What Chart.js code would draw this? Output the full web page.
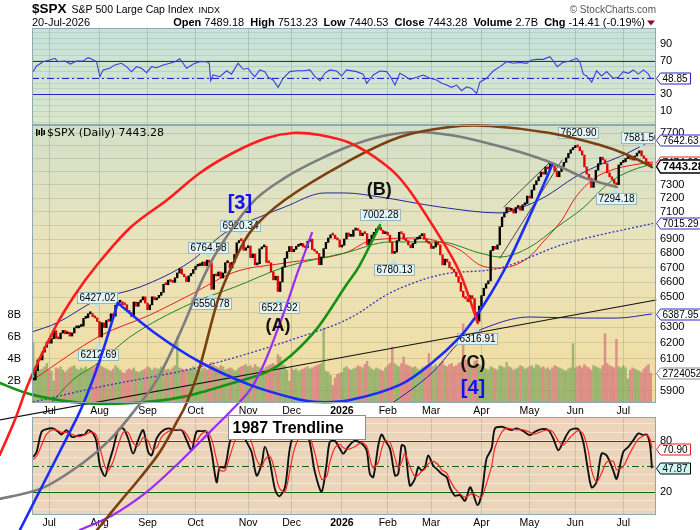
<!DOCTYPE html>
<html>
<head>
<meta charset="utf-8">
<title>$SPX Daily</title>
<script src="https://cdn.jsdelivr.net/npm/chart.js@4.4.1/dist/chart.umd.min.js"></script>
<style>
  html, body { margin: 0; padding: 0; background: #fff; }
  #wrap { position: relative; width: 700px; height: 530px; overflow: hidden; }
  #wrap canvas { position: absolute; left: 0; top: 0; }
</style>
</head>
<body>
<div id="wrap">
  <canvas id="rsi" width="700" height="530"></canvas>
  <canvas id="stoch" width="700" height="530"></canvas>
  <canvas id="main" width="700" height="530"></canvas>
</div>
<script>
const FONT = '"Liberation Sans", Arial, sans-serif';
Chart.defaults.font.family = FONT;
Chart.defaults.font.size = 11;
Chart.defaults.color = '#000';

// x axis = trading day index, 0 = 20-Jun-2025, 270 = 20-Jul-2026
const X_MIN = -0.5, X_MAX = 272.3;
const monthIdx = [7, 29, 50, 71, 94, 113, 135, 155, 174, 196, 217, 237, 258];
const monthLabels = ['Jul', 'Aug', 'Sep', 'Oct', 'Nov', 'Dec', '2026', 'Feb', 'Mar', 'Apr', 'May', 'Jun', 'Jul'];

// daily closes
const closes = [
  5967, 6025, 6092, 6092, 6141, 6173, 6205,                                   // Jun 25
  6198, 6227, 6279, 6229, 6226, 6263, 6280, 6259, 6268, 6244, 6264, 6297, 6297,
  6306, 6309, 6359, 6363, 6389, 6390, 6371, 6362, 6339,                       // Jul
  6238, 6330, 6299, 6345, 6340, 6389, 6374, 6446, 6466, 6469, 6450, 6449, 6411,
  6396, 6370, 6467, 6439, 6465, 6481, 6502, 6460,                             // Aug
  6416, 6448, 6502, 6482, 6495, 6512, 6532, 6587, 6584, 6615, 6606, 6600, 6631,
  6664, 6693, 6656, 6638, 6605, 6644, 6661, 6688,                             // Sep
  6711, 6715, 6716, 6740, 6714, 6753, 6735, 6553, 6655, 6644, 6671, 6630, 6664,
  6735, 6735, 6699, 6738, 6792, 6875, 6891, 6890, 6822, 6840,                 // Oct
  6852, 6771, 6796, 6720, 6728, 6832, 6846, 6851, 6737, 6734, 6672, 6617, 6642,
  6538, 6603, 6705, 6766, 6813, 6849,                                         // Nov
  6812, 6829, 6850, 6857, 6870, 6846, 6840, 6886, 6901, 6827, 6816, 6800, 6721,
  6775, 6834, 6878, 6909, 6932, 6930, 6905, 6896, 6845,                       // Dec
  6858, 6902, 6945, 6921, 6921, 6966, 6977, 6963, 6926, 6944, 6940, 6860, 6900,
  6930, 6950, 6975, 6985, 6965, 6940, 6950,                                   // Jan 26
  6930, 6880, 6800, 6810, 6890, 6950, 6940, 6900, 6890, 6860, 6840, 6870, 6900,
  6905, 6925, 6940, 6900, 6880, 6870,                                         // Feb
  6835, 6845, 6880, 6860, 6790, 6720, 6760, 6740, 6700, 6690, 6670, 6640, 6600,
  6540, 6500, 6490, 6470, 6510, 6490, 6400, 6340, 6440,                       // Mar
  6510, 6560, 6590, 6610, 6820, 6850, 6830, 6860, 6990, 7060, 7090, 7130, 7110,
  7120, 7090, 7130, 7140, 7110, 7150, 7160, 7215,                             // Apr
  7200, 7260, 7300, 7330, 7360, 7395, 7380, 7435, 7420, 7465, 7440, 7405, 7360,
  7400, 7440, 7470, 7505, 7540, 7568, 7585,                                   // May
  7600, 7590, 7560, 7527, 7435, 7380, 7350, 7280, 7330, 7410, 7460, 7510, 7490,
  7460, 7390, 7360, 7340, 7310, 7300, 7450, 7470,                             // Jun
  7475, 7500, 7510, 7495, 7488, 7520, 7542, 7560, 7520, 7500, 7470, 7457.69, 7443.28 // Jul
];

// daily volume, billions
const volumes = [
  5.5, 3.2, 3.5, 3.0, 3.1, 3.3, 3.6,
  3.0, 2.9, 2.0, 3.2, 3.1, 3.3, 3.0, 2.8, 3.0, 3.2, 3.3, 3.4, 3.1, 3.0, 3.2, 3.1, 3.3, 3.0, 3.1, 3.2, 3.3, 3.6,
  3.9, 3.3, 3.2, 3.1, 3.0, 2.9, 3.1, 3.4, 3.2, 3.0, 2.8, 2.7, 3.0, 3.1, 3.0, 3.2, 2.9, 2.8, 2.9, 3.0, 3.1,
  3.3, 3.2, 3.0, 3.2, 3.1, 3.1, 3.3, 3.2, 3.0, 3.1, 3.0, 3.2, 3.4, 6.0, 3.2, 3.1, 3.0, 3.1, 3.0, 3.1, 3.3,
  3.1, 3.0, 2.9, 3.1, 3.2, 3.0, 3.1, 3.7, 3.4, 3.3, 3.2, 3.4, 3.3, 3.0, 3.1, 3.2, 3.1, 2.9, 3.0, 3.2, 3.3, 3.4, 3.5,
  3.3, 3.4, 3.2, 3.5, 3.3, 3.2, 3.0, 3.1, 3.3, 3.4, 3.5, 3.6, 3.4, 4.4, 4.2, 3.5, 3.4, 3.0, 2.0,
  3.2, 3.0, 3.1, 2.9, 3.0, 3.1, 3.2, 3.3, 3.1, 3.2, 3.3, 3.4, 3.5, 3.6, 6.8, 2.9, 2.8, 2.5, 1.6, 2.3, 2.6, 2.7,
  2.8, 3.2, 3.3, 3.1, 3.0, 3.1, 3.2, 3.4, 3.3, 3.2, 3.5, 3.8, 3.3, 3.1, 3.0, 3.2, 3.1, 3.0, 2.9, 3.2,
  3.4, 3.6, 5.1, 3.6, 3.4, 3.3, 3.6, 4.2, 3.5, 3.4, 3.3, 3.2, 3.3, 3.1, 3.0, 3.2, 3.3, 3.4, 4.5,
  3.4, 3.3, 3.5, 3.2, 3.6, 3.8, 3.4, 3.3, 3.5, 3.6, 3.3, 3.4, 3.6, 3.7, 7.2, 3.9, 3.6, 3.5, 3.4, 3.8, 3.9, 3.5,
  3.4, 3.2, 3.1, 3.0, 3.3, 3.2, 3.1, 3.0, 3.4, 3.3, 3.2, 3.7, 3.3, 3.2, 3.0, 3.1, 3.2, 3.4, 3.3, 3.1, 3.2,
  3.3, 3.4, 3.2, 3.5, 3.4, 3.2, 3.3, 3.1, 3.2, 3.0, 3.2, 3.4, 3.3, 3.2, 3.1, 3.0, 2.9, 3.1, 3.2, 5.4,
  3.2, 3.3, 3.4, 3.2, 3.5, 3.3, 3.2, 3.0, 3.4, 3.3, 3.2, 3.1, 3.4, 6.3, 3.6, 3.4, 3.3, 3.2, 5.8, 3.3, 3.2,
  3.4, 3.2, 2.2, 3.0, 3.2, 3.1, 3.0, 2.9, 2.8, 3.1, 3.3, 3.5, 2.724
];

const priceTicks = [5900, 6000, 6100, 6200, 6300, 6400, 6500, 6600, 6700, 6800, 6900, 7000, 7100, 7200, 7300, 7400, 7500, 7600, 7700];
const priceLabels = [5900, 6100, 6200, 6300, 6500, 6600, 6700, 6800, 6900, 7100, 7200, 7300, 7700];
const volTicks = [2, 4, 6, 8];

// overlays [day index, price]
const maUpper = [[-0.6, 6270], [10.4, 6329], [27.9, 6481], [46.7, 6568], [68.5, 6740], [83.8, 6945], [101.3, 7076], [110, 7134], [127.5, 7238], [136.3, 7238], [151.6, 7208], [177.8, 7134], [204.1, 7090], [212.8, 7126], [223.7, 7208], [236.9, 7358], [245.6, 7434], [260, 7543], [270.5, 7643]];
const maRed = [[-0.1, 5968], [29.2, 6245], [51, 6381], [68.5, 6514], [88.2, 6671], [110, 6733], [136.3, 6803], [148.5, 6895], [169.1, 6909], [177.8, 6881], [186.6, 6824], [195.3, 6719], [204.1, 6698], [216.3, 6768], [223.7, 6895], [231.2, 7039], [236.9, 7200], [245.6, 7351], [253, 7412], [262.2, 7450], [271, 7473]];
const maGreen = [[5.1, 5785], [17.4, 5968], [29.2, 6079], [42.3, 6238], [68.5, 6454], [88.2, 6568], [110, 6705], [136.3, 6803], [156, 6881], [177.8, 6881], [195.3, 6803], [204.1, 6775], [217.2, 6845], [229, 6988], [240.4, 7126], [252.2, 7320], [262.2, 7412], [271, 7458]];
const maDotted = [[-0.1, 5833], [29.2, 5925], [72.9, 6048], [116.6, 6238], [138.5, 6361], [156, 6528], [177.8, 6651], [204.1, 6698], [231.2, 6861], [271, 7015]];
const maLower = [[151.6, 5773], [174.8, 6017], [186.6, 6206], [201, 6316], [217.2, 6368], [240.4, 6361], [255.2, 6361], [270.5, 6388]];

const redArc = [[-14.6, 5523], [-8, 5726], [-1.4, 5968], [9.5, 6296], [18.2, 6514], [27.9, 6719], [42.3, 6981], [58.5, 7186], [72.9, 7389], [87.3, 7543], [102.2, 7660], [113.6, 7700], [125.4, 7684], [138.5, 7621], [152.9, 7465], [163.4, 7283], [177.8, 6917], [186.6, 6664], [194.4, 6329]];
const grayArc = [[-14.6, 5278], [4.2, 5338], [21.7, 5477], [33.5, 5609], [44.5, 5785], [54.1, 5968], [62.8, 6219], [68.5, 6414], [72.9, 6582], [80.8, 6824], [95.6, 7163], [110, 7351], [124.5, 7488], [138.5, 7597], [152.9, 7676], [167.8, 7708], [182.2, 7684], [196.6, 7629], [212.8, 7550], [226.8, 7465], [241.2, 7351], [255.2, 7283]];
const brownArc = [[27.9, 5111], [37.9, 5261], [46.7, 5393], [55.4, 5540], [62.8, 5714], [67.2, 5830], [72.9, 6050], [80.8, 6481], [88.2, 6754], [95.6, 6966], [110, 7186], [136.3, 7465], [160.3, 7668], [182.2, 7748], [199.7, 7756], [225.9, 7700], [247.8, 7605], [260, 7527], [270.5, 7434]];
const blueArcA = [[-5.8, 5111], [4.2, 5354], [14.7, 5621], [21.7, 5815], [29.2, 6092], [37, 6461]];
const blueArcB = [[37, 6461], [53.2, 6264], [72.9, 6079], [94.8, 5937], [113.6, 5857], [124, 5833], [138.5, 5845], [160.3, 5937], [174.8, 6079], [186.6, 6238], [194, 6381], [199.7, 6514], [207.1, 6719], [216.3, 7039], [223.7, 7320], [226.8, 7450]];
const greenArc = [[-14.6, 5949], [-0.1, 5876], [21.7, 5827], [43.6, 5827], [65.5, 5864], [87.3, 5949], [102.2, 6017], [113.1, 6125], [124.5, 6300], [136.3, 6568], [142.8, 6719], [151.6, 7002]];
const purpleArc = [[20.4, 5111], [34.9, 5191], [49.7, 5316], [64.1, 5483], [77.3, 5656], [86, 5773], [94.8, 5906], [101.3, 6079], [110, 6414], [115.7, 6671], [121.9, 6945]];
const trendLine = [[-14.6, 5726], [272.3, 6481]];
const channelUp = [[205.8, 7134], [226, 7473]];
const channelLow = [[204.1, 6768], [231.2, 7488]];

// pivot callouts
const pivotIdx = [27.9, 28.5, 76.6, 90.6, 77.7, 107.7, 151.8, 157.7, 194.1, 238.2, 254.6, 265.7];
const pivotPrice = [6427.02, 6212.69, 6764.58, 6920.34, 6550.78, 6521.92, 7002.28, 6780.13, 6316.91, 7620.90, 7294.18, 7581.50];
const pivotHigh = [true, false, true, true, false, false, true, false, false, true, false, true];

// RSI
const rsiIdx = [0, 1.5, 4.4, 7.3, 9.5, 10.9, 13.9, 16.3, 19, 21.9, 24, 25.5, 27.7, 29.2, 30.6, 33.5, 35.7, 38.6, 40.8, 43,
  45.2, 47.4, 49.6, 51.8, 54, 56.8, 59.8, 62, 64.1, 67.1, 70, 72.9, 75.8, 77, 77.6, 78.7, 81.6, 84.6, 86.7, 89.6,
  91.8, 94, 95.5, 96.9, 99.1, 101.3, 102.8, 104.9, 107.1, 109.3, 112.2, 115.2, 118.1, 121, 123.2, 125.4, 127.5, 129.7, 132.7, 134.8, 137,
  141.4, 144.3, 145.8, 148.7, 151.6, 154.5, 156, 158.2, 160.3, 162.5, 164.7, 167.6, 170.5, 173.5, 176.4, 178.6, 180.8, 182.9, 185.1, 187.3,
  189.5, 191.7, 193.9, 195.3, 198.2, 201.1, 204.1, 207, 209.9, 212.8, 215.7, 217.9, 220.1, 223, 225.9, 227.4, 229.1, 231.7, 234.7, 237.6,
  239, 240.5, 242, 244.2, 246.3, 248.5, 250.7, 253.6, 255.8, 258, 260.2, 262.4, 264.6, 266.8, 269, 270];
const rsiVal = [57, 63.7, 68.8, 70.8, 72.8, 68.8, 69.6, 66, 69.6, 69.6, 73.6, 72, 68.8, 51, 59, 61, 65, 67, 62.9, 56.9,
  62.9, 61, 55.7, 62.9, 61.7, 65, 66.9, 68.8, 72.4, 61, 66, 68.8, 68.8, 67, 46.2, 53, 51, 58, 54, 66.9,
  59.8, 61, 55, 51, 59, 57, 50.2, 47, 38.3, 49, 57, 58, 58, 59, 51, 46.2, 55, 59, 57.7, 51.8, 59,
  57, 54, 43, 53, 57.7, 57, 51.8, 41.2, 55, 51.8, 47.7, 50.2, 53, 49, 47, 43.1, 41, 38.3, 41, 34.3,
  39, 37, 31.1, 44.4, 49, 57.7, 62.9, 68.8, 66.9, 68, 66.9, 70.8, 71.6, 71.6, 74.8, 69.6, 62.9, 68, 69.6, 72.8,
  68.8, 54, 51.8, 44.4, 58, 51.8, 57, 49, 50.2, 57, 55, 59, 54, 59, 54, 48.85];
const rsiGrid = [-3.3, 3.3, 10, 16.7, 23.3, 30, 36.7, 43.3, 50, 56.7, 63.3, 70, 76.7, 83.3, 90, 96.7, 103.3];
const rsiLabels = [10, 30, 70, 90];

// Slow stochastics
const stochIdx = [0, 1.5, 3.7, 5.9, 8.7, 10.9, 12.4, 14.6, 16.8, 18.2, 20.4, 22.6, 24, 26.2, 27.7, 29.2, 31.4, 32.8, 35, 37.2,
  39.4, 41.5, 43.7, 45.9, 48.1, 50.3, 51.8, 54, 56.1, 59, 62, 64.9, 67.1, 69.3, 71.4, 73.6, 75.8, 78, 80.2, 81.6,
  83.8, 86, 88.2, 90.4, 93.3, 95.5, 97.7, 99.9, 101.3, 103.5, 105.7, 107.6, 110.1, 112.2, 114.4, 117.4, 120.3, 123.2, 126.1, 128.3,
  129.7, 131.9, 134.1, 135.6, 137.7, 140.5, 143.6, 145.8, 147.2, 148.7, 150.9, 152.3, 153.8, 156, 158.2, 159.6, 161.1, 162.5, 164.7, 166.9,
  168.4, 169.8, 171.3, 172.7, 174.9, 177.1, 178.6, 180.8, 182.2, 184.4, 186.6, 188.8, 191, 192.4, 194.3, 196.1, 198.2, 200.4, 201.9, 204.8,
  207, 209.2, 211.4, 214.3, 217.2, 219.4, 222.3, 225.2, 227.4, 229.6, 231.7, 234.7, 238.3, 240.5, 242.7, 244.2, 246.3, 248.5, 250.7, 253.6,
  255.1, 258, 260.2, 262.4, 264.6, 266.8, 268.3, 269.7, 270.5];
const stochK = [61, 67, 90.7, 93.8, 94.6, 90.7, 87.5, 92.6, 84.7, 84.7, 86.7, 87.5, 92.6, 88.7, 78.8, 51.2, 38.6, 51.2, 70.9, 92.6,
  94.6, 82.8, 65, 80.8, 92.6, 67, 63, 82.8, 90.7, 94.6, 92.6, 92.6, 80.8, 69, 90.7, 91.4, 90.7, 67, 31.4, 49.2,
  49, 78.8, 92, 94, 78.8, 67, 39.3, 53, 72.9, 55.1, 23.5, 14.9, 25.5, 70.9, 90, 92, 85, 43.3, 20.4, 53,
  78.8, 80, 70.9, 65, 72.9, 80, 76.8, 68.9, 41.3, 37.4, 74.9, 87.5, 80.8, 70.9, 39.3, 41.3, 74.9, 72.9, 27.5, 35.4,
  49.2, 45.3, 49, 63, 51.2, 45.3, 41.3, 37.4, 25.5, 15.7, 16.4, 9.7, 25.5, 17.6, 4.6, 17.6, 59.1, 70.9, 94.6, 96.6,
  94.6, 92.6, 94.6, 91.4, 86.7, 90.7, 93.8, 92.6, 82.8, 69, 78.8, 92.6, 93.8, 78.8, 43.3, 25.5, 31.4, 65, 63, 45.3,
  35.4, 67, 72.9, 80.8, 88.7, 86.7, 87.5, 74.9, 47.87];
const stochD = [58, 62, 75, 88, 93, 92, 90, 90, 88, 86, 85, 87, 89, 90, 86, 72, 50, 45, 56, 75,
  90, 90, 78, 74, 84, 80, 70, 72, 84, 91, 93, 93, 88, 78, 80, 88, 91, 82, 58, 46,
  45, 62, 80, 90, 88, 78, 58, 50, 58, 62, 45, 25, 20, 45, 72, 88, 88, 65, 35, 38,
  55, 72, 76, 72, 70, 73, 78, 74, 60, 48, 55, 70, 80, 78, 60, 48, 55, 65, 50, 38,
  40, 44, 47, 53, 56, 52, 46, 42, 34, 24, 18, 14, 17, 18, 15, 14, 30, 50, 72, 90,
  95, 94, 93, 93, 90, 88, 91, 93, 90, 80, 75, 84, 92, 88, 68, 45, 32, 42, 55, 56,
  46, 50, 62, 73, 82, 86, 87, 82, 70.9];
const stochGrid = [0, 10, 20, 30, 40, 50, 60, 70, 80, 90, 100];
const stochLabels = [20, 80];

// ---------- helpers ----------
const toXY = pts => pts.map(([x, y]) => ({ x, y }));
const isUp = closes.map((c, i) => i === 0 || c >= closes[i - 1]);

function xAxis(show, gridColor) {
  return {
    type: 'linear', min: X_MIN, max: X_MAX, bounds: 'data', offset: false,
    afterBuildTicks: s => { s.ticks = monthIdx.map(v => ({ value: v })); },
    afterFit: s => { s.height = show ? 15 : 0; },
    grid: { color: gridColor, drawTicks: false, offset: false },
    border: { display: false },
    ticks: {
      display: show, padding: 2, autoSkip: false, maxRotation: 0, minRotation: 0,
      callback: (v, i) => monthLabels[i],
      font: c => ({ size: 10.5, weight: monthLabels[c.index] === '2026' ? 'bold' : 'normal' })
    }
  };
}

const panelBg = {
  id: 'panelBg',
  beforeDraw(chart, args, o) {
    const { ctx, chartArea: a } = chart;
    const g = ctx.createLinearGradient(0, a.top, 0, a.bottom);
    o.stops.forEach(([p, c]) => g.addColorStop(p, c));
    ctx.save();
    ctx.fillStyle = g;
    ctx.fillRect(a.left, a.top, a.right - a.left, a.bottom - a.top);
    ctx.restore();
  },
  afterDraw(chart, args, o) {
    const { ctx, chartArea: a } = chart;
    ctx.save();
    ctx.strokeStyle = '#8fa9b2';
    ctx.lineWidth = 1;
    ctx.strokeRect(a.left + 0.5, a.top + 0.5, a.right - a.left - 1, a.bottom - a.top - 1);
    ctx.restore();
  }
};

const levelLines = {
  id: 'levelLines',
  beforeDatasetsDraw(chart, args, o) {
    const { ctx, chartArea: a } = chart;
    const y = chart.scales.y;
    (o.lines || []).forEach(l => {
      const py = Math.round(y.getPixelForValue(l.value)) + 0.5;
      ctx.save();
      ctx.strokeStyle = l.color;
      ctx.lineWidth = 1.2;
      ctx.setLineDash(l.dash || []);
      ctx.beginPath();
      ctx.moveTo(a.left, py);
      ctx.lineTo(a.right, py);
      ctx.stroke();
      ctx.restore();
    });
  }
};

function drawTag(ctx, x, y, text, border, fill, bold) {
  ctx.save();
  ctx.font = (bold ? 'bold 11.5px ' : '10px ') + FONT;
  const w = ctx.measureText(text).width + 5, h = bold ? 13 : 11;
  const yy = Math.round(y) + 0.5;
  ctx.beginPath();
  ctx.moveTo(x + 0.5, yy);
  ctx.lineTo(x + 4.5, yy - h / 2);
  ctx.lineTo(x + 4.5 + w, yy - h / 2);
  ctx.lineTo(x + 4.5 + w, yy + h / 2);
  ctx.lineTo(x + 4.5, yy + h / 2);
  ctx.closePath();
  ctx.fillStyle = fill;
  ctx.fill();
  ctx.strokeStyle = border;
  ctx.lineWidth = bold ? 1.4 : 1;
  ctx.stroke();
  ctx.fillStyle = '#000';
  ctx.textBaseline = 'middle';
  ctx.textAlign = 'left';
  ctx.fillText(text, x + 6.5, yy + 0.5);
  ctx.restore();
}

function drawCallout(ctx, cx, py, text, high) {
  ctx.save();
  ctx.font = '10px ' + FONT;
  const w = Math.round(ctx.measureText(text).width) + 4, h = 11;
  const top = Math.round(high ? py - 5 - h : py + 8);
  const left = Math.round(cx - w / 2);
  ctx.fillStyle = '#bfe0e4';
  ctx.beginPath();
  if (high) { ctx.moveTo(cx - 4, top + h); ctx.lineTo(cx, top + h + 5); ctx.lineTo(cx + 4, top + h); }
  else { ctx.moveTo(cx - 4, top); ctx.lineTo(cx, top - 5); ctx.lineTo(cx + 4, top); }
  ctx.closePath();
  ctx.fill();
  ctx.fillStyle = '#e4f4f4';
  ctx.strokeStyle = '#97b9be';
  ctx.lineWidth = 1;
  ctx.fillRect(left + 0.5, top + 0.5, w, h);
  ctx.strokeRect(left + 0.5, top + 0.5, w, h);
  ctx.fillStyle = '#000';
  ctx.textBaseline = 'middle';
  ctx.textAlign = 'center';
  ctx.fillText(text, left + w / 2 + 0.5, top + h / 2 + 1);
  ctx.restore();
}

function strokeCurve(ctx, pts, color, width, dash) {
  ctx.save();
  ctx.strokeStyle = color;
  ctx.lineWidth = width;
  ctx.lineCap = 'round';
  ctx.setLineDash(dash || []);
  ctx.beginPath();
  ctx.moveTo(pts[0].x, pts[0].y);
  for (let i = 0; i < pts.length - 1; i++) {
    const p0 = pts[i - 1] || pts[i], p1 = pts[i], p2 = pts[i + 1], p3 = pts[i + 2] || p2;
    ctx.bezierCurveTo(p1.x + (p2.x - p0.x) / 6, p1.y + (p2.y - p0.y) / 6,
      p2.x - (p3.x - p1.x) / 6, p2.y - (p3.y - p1.y) / 6, p2.x, p2.y);
  }
  ctx.stroke();
  ctx.restore();
}

const mainOverlay = {
  id: 'mainOverlay',
  afterDatasetsDraw(chart) {
    const { ctx, chartArea: a, scales } = chart;
    const x = scales.x, y = scales.y, vol = scales.vol;
    const pix = pts => pts.map(([i, p]) => ({ x: x.getPixelForValue(i), y: y.getPixelForValue(p) }));

    // pivot callouts
    ctx.save();
    ctx.beginPath();
    ctx.rect(a.left, a.top, a.right - a.left, a.bottom - a.top);
    ctx.clip();
    pivotIdx.forEach((i, k) => drawCallout(ctx, x.getPixelForValue(i), y.getPixelForValue(pivotPrice[k]),
      pivotPrice[k].toFixed(2), pivotHigh[k]));
    ctx.restore();

    // straight lines
    strokeCurve(ctx, pix(trendLine), '#111', 1.1);
    strokeCurve(ctx, pix(channelUp), '#222', 0.8);
    strokeCurve(ctx, pix(channelLow), '#222', 0.8);

    // arcs
    strokeCurve(ctx, pix(greenArc), '#129412', 2.6);
    strokeCurve(ctx, pix(purpleArc), '#9b2cf5', 2.2);
    strokeCurve(ctx, pix(grayArc), '#7d7d7d', 2.6);
    strokeCurve(ctx, pix(brownArc), '#7b3f12', 2.6);
    strokeCurve(ctx, pix(blueArcA), '#1b2cff', 2.6);
    strokeCurve(ctx, pix(blueArcB), '#1b2cff', 2.6);
    strokeCurve(ctx, pix(redArc), '#ff1c1c', 2.6);

    // wave labels
    ctx.save();
    ctx.textAlign = 'center';
    ctx.textBaseline = 'middle';
    [['[3]', 90.4, 7163, '#1212f0', 20], ['[4]', 192.3, 5918, '#1212f0', 20],
     ['(B)', 151.3, 7260, '#111', 18], ['(A)', 107, 6310, '#111', 18], ['(C)', 192.3, 6073, '#111', 18]]
      .forEach(([t, i, p, c, s]) => {
        ctx.font = 'bold ' + s + 'px ' + FONT;
        ctx.fillStyle = c;
        ctx.fillText(t, x.getPixelForValue(i), y.getPixelForValue(p));
      });

    // trendline note
    const bx = Math.round(x.getPixelForValue(85.1)) + 0.5, by = Math.round(y.getPixelForValue(5756)) + 0.5;
    const bw = Math.round(x.getPixelForValue(145.5) - bx), bh = Math.round(y.getPixelForValue(5609) - by);
    ctx.fillStyle = '#fff';
    ctx.strokeStyle = '#8a8a8a';
    ctx.lineWidth = 1;
    ctx.fillRect(bx, by, bw, bh);
    ctx.strokeRect(bx, by, bw, bh);
    ctx.fillStyle = '#000';
    ctx.textAlign = 'left';
    ctx.font = 'bold 16px ' + FONT;
    ctx.fillText('1987 Trendline', bx + 4, by + bh / 2 + 1);

    // panel header
    ctx.fillStyle = '#000';
    [[36, 129, 7], [38.5, 130, 5], [41, 128, 8], [43.5, 130, 5]].forEach(([ix, iy, ih]) => ctx.fillRect(ix, iy, 1.5, ih));
    ctx.font = '11px "DejaVu Sans", sans-serif';
    ctx.textBaseline = 'alphabetic';
    ctx.fillText('$SPX (Daily) 7443.28', 47, 136);
    ctx.restore();

    // right-hand value tags
    drawTag(ctx, a.right, y.getPixelForValue(7642.63), '7642.63', '#2b2bc4', '#fff');
    drawTag(ctx, a.right, y.getPixelForValue(7474.90), '7474.90', '#e02020', '#fff');
    drawTag(ctx, a.right, y.getPixelForValue(7443.28), '7443.28', '#000', '#fff', true);
    drawTag(ctx, a.right, y.getPixelForValue(7015.29), '7015.29', '#2b2bc4', '#fff');
    drawTag(ctx, a.right, y.getPixelForValue(6387.95), '6387.95', '#2b2bc4', '#fff');
    drawTag(ctx, a.right, vol.getPixelForValue(2.724052), '2724052', '#888', '#fff');
  }
};

function drawTitle(ctx) {
  ctx.save();
  ctx.fillStyle = '#000';
  ctx.textAlign = 'left';
  ctx.textBaseline = 'alphabetic';
  ctx.font = 'bold 13.5px ' + FONT;
  ctx.fillText('$SPX', 32, 13);
  let x = 32 + ctx.measureText('$SPX').width + 5;
  ctx.font = '10.5px ' + FONT;
  ctx.fillText('S&P 500 Large Cap Index', x, 13);
  x += ctx.measureText('S&P 500 Large Cap Index').width + 5;
  ctx.font = '9px ' + FONT;
  ctx.fillText('INDX', x, 13);
  ctx.font = '11px ' + FONT;
  ctx.fillText('20-Jul-2026', 32, 26);
  const segs = [['Open', 1], [' 7489.18  ', 0], ['High', 1], [' 7513.23  ', 0], ['Low', 1], [' 7440.53  ', 0],
    ['Close', 1], [' 7443.28  ', 0], ['Volume', 1], [' 2.7B  ', 0], ['Chg', 1], [' -14.41 (-0.19%)', 0]];
  let total = 0;
  segs.forEach(([t, b]) => { ctx.font = (b ? 'bold ' : '') + '11px ' + FONT; total += ctx.measureText(t).width; });
  x = 645 - total;
  segs.forEach(([t, b]) => {
    ctx.font = (b ? 'bold ' : '') + '11px ' + FONT;
    ctx.fillText(t, x, 26);
    x += ctx.measureText(t).width;
  });
  ctx.fillStyle = '#8c0a2a';
  ctx.beginPath();
  ctx.moveTo(647, 20.5); ctx.lineTo(655, 20.5); ctx.lineTo(651, 25.5);
  ctx.closePath();
  ctx.fill();
  ctx.fillStyle = '#555';
  ctx.font = '10px ' + FONT;
  ctx.textAlign = 'right';
  ctx.fillText('\u00a9 StockCharts.com', 656, 13);
  ctx.restore();
}

// ---------- RSI panel ----------
new Chart(document.getElementById('rsi'), {
  type: 'line',
  data: { datasets: [{ data: rsiIdx.map((x, i) => ({ x, y: rsiVal[i] })), borderColor: '#3d3de0', borderWidth: 1.1, pointRadius: 0, tension: 0 }] },
  options: {
    responsive: false, animation: false, events: [],
    layout: { padding: { top: 28, bottom: 405, left: 32, right: 0 } },
    plugins: {
      legend: { display: false }, tooltip: { enabled: false },
      panelBg: { stops: [[0, '#c5e3dc'], [1, '#dbe7cb']] },
      levelLines: { lines: [{ value: 70, color: '#2323c8' }, { value: 30, color: '#2323c8' }, { value: 50, color: '#2323c8', dash: [7, 3, 2, 3] }] }
    },
    scales: {
      x: xAxis(false, 'rgba(110,150,140,0.35)'),
      y: {
        position: 'right', min: -6.5, max: 108.9, bounds: 'data',
        afterBuildTicks: s => { s.ticks = rsiGrid.map(v => ({ value: v })); },
        afterFit: s => { s.width = 44; },
        grid: { color: 'rgba(110,150,130,0.22)', drawTicks: false },
        border: { display: false },
        ticks: { padding: 4, autoSkip: false, font: { size: 11 }, callback: v => rsiLabels.includes(v) ? String(v) : '' }
      }
    }
  },
  plugins: [panelBg, levelLines, {
    id: 'rsiOverlay',
    afterDraw(chart) {
      drawTitle(chart.ctx);
      drawTag(chart.ctx, chart.chartArea.right, chart.scales.y.getPixelForValue(48.85), '48.85', '#2323c8', '#fff');
    }
  }]
});

// ---------- Stochastics panel ----------
new Chart(document.getElementById('stoch'), {
  type: 'line',
  data: {
    datasets: [
      { data: stochIdx.map((x, i) => ({ x, y: stochD[i] })), borderColor: '#ff2424', borderWidth: 1.2, pointRadius: 0, tension: 0.3 },
      { data: stochIdx.map((x, i) => ({ x, y: stochK[i] })), borderColor: '#111', borderWidth: 1.9, pointRadius: 0, tension: 0.3 }
    ]
  },
  options: {
    responsive: false, animation: false, events: [],
    layout: { padding: { top: 417, bottom: 0, left: 32, right: 0 } },
    plugins: {
      legend: { display: false }, tooltip: { enabled: false },
      panelBg: { stops: [[0, '#ecd5ba'], [1, '#ebd5bb']] },
      levelLines: { lines: [{ value: 80, color: '#0b620b' }, { value: 20, color: '#0b620b' }, { value: 50, color: '#0b620b', dash: [7, 3, 2, 3] }] }
    },
    scales: {
      x: xAxis(true, 'rgba(150,160,160,0.45)'),
      y: {
        position: 'right', min: -7, max: 108, bounds: 'data',
        afterBuildTicks: s => { s.ticks = stochGrid.map(v => ({ value: v })); },
        afterFit: s => { s.width = 44; },
        grid: { color: 'rgba(255,245,235,0.55)', drawTicks: false },
        border: { display: false },
        ticks: { padding: 4, autoSkip: false, font: { size: 11 }, callback: v => stochLabels.includes(v) ? String(v) : '' }
      }
    }
  },
  plugins: [panelBg, levelLines, {
    id: 'stochOverlay',
    afterDraw(chart) {
      const y = chart.scales.y, r = chart.chartArea.right;
      drawTag(chart.ctx, r, y.getPixelForValue(70.90), '70.90', '#e01c1c', '#fff');
      drawTag(chart.ctx, r, y.getPixelForValue(47.87), '47.87', '#000', '#ccf5f5');
    }
  }]
});

// ---------- Price panel ----------
const line = (pts, color, width, extra) => Object.assign({
  type: 'line', data: toXY(pts), borderColor: color, borderWidth: width, pointRadius: 0,
  cubicInterpolationMode: 'monotone', fill: false, yAxisID: 'y', order: 3
}, extra || {});

new Chart(document.getElementById('main'), {
  type: 'bar',
  data: {
    datasets: [
      {
        type: 'bar', yAxisID: 'vol', order: 5, grouped: false, barThickness: 1.8,
        data: volumes.map((v, i) => ({ x: i, y: v })),
        backgroundColor: isUp.map(u => u ? 'rgba(128,168,96,0.75)' : 'rgba(214,118,124,0.75)')
      },
      line(maDotted, '#3434c0', 1.3, { borderDash: [2, 2] }),
      line(maLower, '#2424a8', 1),
      line(maUpper, '#25259e', 1),
      line(maGreen, '#1f861f', 1),
      line(maRed, '#e61e1e', 1),
      {
        type: 'bar', yAxisID: 'y', order: 1, grouped: false, barThickness: 1.7, minBarLength: 2,
        data: closes.map((c, i) => ({ x: i, y: [i ? closes[i - 1] : c, c] })),
        backgroundColor: isUp.map(u => u ? '#000' : '#e00000')
      }
    ]
  },
  options: {
    responsive: false, animation: false, events: [],
    layout: { padding: { top: 125, bottom: 112, left: 0, right: 0 } },
    plugins: {
      legend: { display: false }, tooltip: { enabled: false },
      panelBg: { stops: [[0, '#d3e0c9'], [0.45, '#ebe4bc'], [1, '#f2dc9e']] }
    },
    scales: {
      x: xAxis(true, 'rgba(140,160,140,0.4)'),
      y: {
        type: 'logarithmic', position: 'right', min: 5827, max: 7764, bounds: 'data',
        afterBuildTicks: s => { s.ticks = priceTicks.map(v => ({ value: v })); },
        afterFit: s => { s.width = 44; },
        grid: { color: 'rgba(150,160,115,0.32)', drawTicks: false },
        border: { display: false },
        ticks: { padding: 4, autoSkip: false, font: { size: 11 }, callback: v => priceLabels.includes(v) ? String(v) : '' }
      },
      vol: {
        type: 'linear', position: 'left', min: 0, max: 25.3, bounds: 'data',
        afterBuildTicks: s => { s.ticks = volTicks.map(v => ({ value: v })); },
        afterFit: s => { s.width = 32; },
        grid: { display: false },
        border: { display: false },
        ticks: { padding: 3, autoSkip: false, font: { size: 11 }, callback: v => v + 'B' }
      }
    }
  },
  plugins: [panelBg, mainOverlay]
});
</script>
</body>
</html>
